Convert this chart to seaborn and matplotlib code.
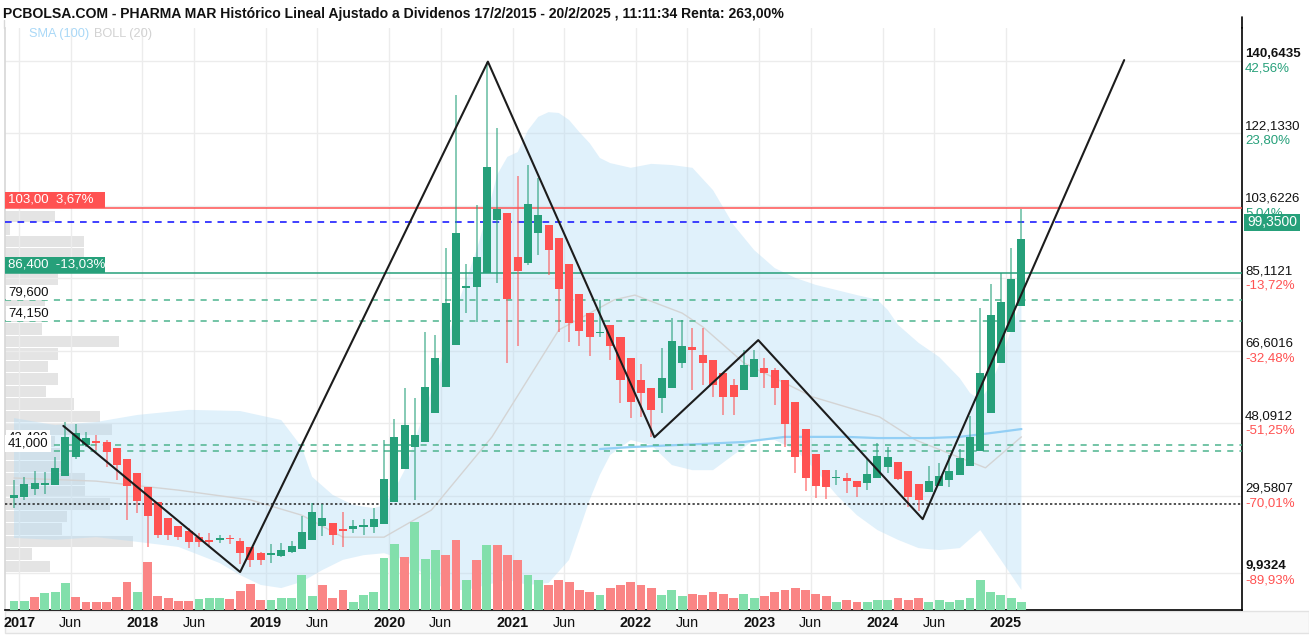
import numpy as np
import matplotlib
matplotlib.use("Agg")
import matplotlib.pyplot as plt
from matplotlib import font_manager
from matplotlib.lines import Line2D
from matplotlib.patches import Rectangle
import seaborn as sns

# ---------------- data (monthly candles, Dec 2016 .. Feb 2025) ----------------
open_ = [29.0, 29.3, 31.3, 32.3, 32.3, 34.6, 39.5, 42.4, 43.3, 43.3, 41.8, 38.9, 35.4, 31.8, 28.0, 23.9, 21.8, 20.5, 19.0, 18.3,
         18.3, 18.6, 18.0, 16.6, 14.9, 14.5, 14.2, 15.1, 16.0, 18.3, 21.9, 22.7, 20.8, 21.0, 21.6, 21.5, 22.4, 28.0, 36.3, 42.1,
         43.4, 50.6, 57.4, 68.1, 82.5, 82.8, 86.4, 99.9, 101.7, 90.4, 88.9, 96.6, 98.7, 95.5, 88.7, 81.1, 76.3, 71.0, 73.2, 70.2,
         64.7, 59.1, 57.0, 54.4, 57.0, 63.5, 67.5, 65.5, 64.2, 61.0, 57.9, 56.6, 59.8, 62.1, 61.7, 59.1, 53.6, 46.5, 40.2, 36.1,
         34.0, 34.0, 33.4, 32.7, 34.0, 37.0, 38.3, 36.0, 32.6, 30.6, 32.1, 33.6, 34.9, 37.2, 41.1, 50.8, 63.4, 71.3, 78.0]
high = [33.6, 34.4, 35.9, 35.6, 39.5, 48.4, 48.0, 45.9, 45.1, 43.8, 41.8, 38.9, 35.4, 31.8, 28.0, 23.9, 21.8, 21.3, 20.0, 20.0,
        19.6, 19.6, 18.8, 16.6, 15.2, 17.3, 17.5, 18.0, 24.4, 27.7, 27.5, 22.7, 25.3, 23.4, 23.6, 26.4, 43.8, 49.1, 57.1, 54.5,
        71.5, 70.6, 92.8, 131.9, 88.7, 103.8, 140.4, 123.4, 101.7, 111.2, 114.0, 110.6, 98.7, 95.5, 88.7, 81.1, 76.3, 79.6, 73.2, 70.2,
        64.7, 63.1, 57.0, 67.2, 74.9, 74.4, 72.4, 72.3, 64.2, 61.0, 59.3, 66.8, 66.8, 64.7, 62.3, 59.1, 53.6, 46.5, 40.2, 36.1,
        36.1, 35.3, 33.4, 39.1, 43.0, 42.1, 38.3, 36.0, 32.6, 37.2, 38.0, 40.0, 41.4, 49.9, 77.4, 83.6, 86.5, 92.7, 102.7]
low = [26.4, 28.5, 29.8, 30.0, 32.3, 34.6, 38.9, 42.0, 41.3, 36.9, 33.6, 23.4, 25.2, 16.5, 18.8, 18.3, 18.3, 16.2, 16.5, 16.5,
       17.5, 17.3, 12.1, 11.5, 11.9, 12.4, 13.9, 14.9, 16.0, 18.3, 19.3, 17.0, 16.6, 20.0, 19.6, 20.0, 22.4, 28.0, 36.3, 28.5,
       43.4, 50.6, 57.4, 68.1, 76.2, 74.0, 86.4, 83.8, 63.4, 67.8, 88.5, 91.0, 85.9, 71.5, 68.9, 67.8, 65.3, 70.0, 64.2, 53.2,
       49.3, 49.8, 44.6, 50.6, 57.0, 62.2, 56.6, 57.9, 54.9, 50.2, 50.2, 56.6, 59.8, 57.2, 52.7, 42.1, 35.3, 30.9, 28.9, 28.7,
       32.3, 30.3, 29.3, 31.0, 34.0, 35.3, 33.6, 26.8, 25.7, 30.6, 32.1, 31.9, 34.9, 37.2, 41.1, 50.8, 63.4, 71.3, 78.0]
close = [29.8, 32.6, 32.8, 32.6, 36.7, 44.6, 45.6, 44.3, 43.0, 40.8, 37.4, 32.0, 28.2, 24.4, 19.6, 19.6, 19.0, 17.8, 17.8, 17.8,
         18.5, 18.4, 14.9, 13.2, 13.2, 14.8, 15.6, 16.8, 20.4, 25.3, 24.0, 19.6, 20.6, 21.9, 21.8, 23.6, 33.8, 44.6, 47.6, 45.1,
         57.4, 64.7, 78.7, 96.6, 83.1, 90.5, 113.6, 102.9, 79.7, 87.0, 104.1, 101.2, 92.3, 82.3, 73.6, 71.7, 70.0, 71.5, 67.8, 59.1,
         53.6, 55.7, 51.5, 59.6, 69.1, 67.8, 66.8, 63.4, 57.8, 54.7, 54.9, 63.0, 64.4, 61.0, 57.0, 47.9, 39.4, 34.0, 32.1, 31.9,
         34.4, 33.4, 31.7, 35.1, 39.8, 39.5, 33.8, 29.2, 28.5, 33.4, 34.7, 36.0, 39.1, 44.6, 61.0, 75.7, 79.1, 84.9, 95.1]
volume = [9, 9, 13, 17, 18, 27, 13, 8, 8, 8, 13, 28, 18, 48, 14, 12, 9, 9, 11, 12,
          12, 11, 19, 26, 10, 10, 12, 12, 35, 14, 25, 12, 20, 8, 15, 18, 52, 66, 53, 88,
          51, 60, 55, 70, 30, 50, 65, 65, 55, 50, 35, 30, 25, 30, 28, 20, 18, 15, 22, 25,
          28, 25, 22, 15, 20, 14, 16, 15, 18, 16, 12, 16, 12, 14, 18, 20, 22, 20, 16, 14,
          8, 10, 8, 8, 10, 10, 12, 10, 12, 8, 10, 8, 10, 12, 30, 18, 15, 12, 8]
volume_up = [1, 1, 0, 1, 1, 1, 0, 0, 0, 0, 0, 0, 1, 0, 0, 0, 0, 0, 1, 1,
             1, 0, 0, 0, 0, 1, 1, 1, 1, 1, 0, 0, 0, 1, 1, 1, 1, 1, 0, 1,
             1, 1, 0, 0, 1, 0, 1, 0, 0, 0, 1, 1, 0, 0, 0, 0, 0, 1, 0, 0,
             0, 0, 0, 1, 1, 1, 0, 0, 0, 0, 0, 1, 1, 0, 0, 0, 0, 0, 0, 0,
             1, 0, 0, 1, 1, 1, 0, 0, 0, 1, 1, 1, 1, 1, 1, 1, 1, 1, 1]

# Bollinger (20) band edges / middle and SMA(100), read at candle indices
boll_up_k = [0, 4, 8, 12, 17, 22, 26, 28, 29, 31, 33, 35, 36, 37, 38, 39, 40, 41, 42, 43, 44, 45, 46, 47, 48, 49, 50, 51, 52,
             53, 54, 55, 56, 57, 58, 60, 62, 64, 66, 68, 70, 72, 74, 76, 78, 80, 82, 84, 85, 86, 88, 90, 92, 93, 94, 95, 96, 97, 98]
boll_up = [49.4, 47.6, 48.4, 50.2, 51.5, 51.2, 48.9, 42.0, 34.4, 29.8, 27.2, 26.4, 27.2, 31.0, 36.1, 43.8, 51.5, 59.6, 68.1,
           77.0, 84.7, 92.3, 101.2, 111.5, 116.1, 117.3, 122.9, 126.3, 127.5, 127.3, 125.5, 122.4, 119.6, 115.8, 114.5, 113.3,
           114.3, 114.0, 113.3, 107.6, 98.7, 92.3, 87.7, 85.2, 83.4, 82.1, 80.8, 79.6, 77.0, 73.2, 68.6, 65.0, 59.6, 55.8, 54.0,
           57.8, 64.2, 71.9, 79.6]
boll_lo_k = [0, 4, 8, 12, 16, 20, 22, 24, 26, 28, 30, 32, 34, 36, 38, 40, 42, 44, 46, 48, 50, 52, 54, 55, 56, 57, 58, 60, 62,
             64, 66, 68, 70, 72, 74, 76, 78, 80, 82, 84, 86, 88, 90, 92, 94, 96, 98]
boll_lo = [18.8, 18.3, 19.0, 17.8, 16.5, 12.4, 9.3, 6.8, 6.0, 7.6, 10.6, 13.2, 14.4, 14.9, 13.2, 9.3, 5.5, 5.5, 6.8, 8.1,
           6.8, 7.3, 13.2, 20.8, 28.5, 34.9, 40.0, 43.8, 42.5, 37.4, 36.1, 36.1, 40.0, 43.8, 43.8, 41.3, 36.1, 29.8, 24.6, 20.8,
           18.3, 16.2, 15.7, 16.2, 20.8, 13.2, 5.5]
boll_mid_k = [0, 8, 16, 23, 28, 32, 36, 40.6, 46.5, 53, 58.4, 60.4, 65, 67, 71, 77.7, 84.2, 87.7, 94.5, 98]
boll_mid = [34.1, 33.3, 31.0, 28.5, 24.6, 19.0, 19.0, 25.9, 44.6, 71.9, 79.6, 80.8, 76.2, 72.7, 63.5, 54.8, 49.7, 43.8, 36.7, 44.6]
sma_k = [57, 60, 67, 71, 75, 81, 84, 89, 92, 96, 98]
sma100 = [41.5, 42.0, 42.8, 43.3, 44.6, 44.6, 44.3, 44.3, 44.6, 45.9, 46.6]

# zig-zag trend line
zigzag_k = [4.8, 22, 46.1, 62.3, 72.4, 88.4, 108]
zigzag_v = [47.4, 10.1, 140.4, 44.5, 69.3, 23.6, 140.8]

# volume profile (price bins from bottom to top)
profile_lo, profile_hi = 9.85, 102.4
profile = [45, 27, 128, 57, 62, 105, 80, 80, 60, 55, 50, 107, 95, 69, 41, 53, 43, 53, 114, 37, 40, 40, 43, 53, 100, 79,
           79, 5, 50]

# levels
lvl_red = 103.00
lvl_last = 99.35
lvl_green = 86.40
lvl_dash = [79.60, 74.15, 42.40, 41.00]
lvl_start = 27.37

# axes ticks
ytick_vals = [140.6435, 122.1330, 103.6226, 85.1121, 66.6016, 48.0912, 29.5807, 9.9324]
ytick_pct = ["42,56%", "23,80%", "5,04%", "-13,72%", "-32,48%", "-51,25%", "-70,01%", "-89,93%"]
ytick_bold = [True, False, False, False, False, False, False, True]
years = [2017, 2018, 2019, 2020, 2021, 2022, 2023, 2024, 2025]

title = ("PCBOLSA.COM - PHARMA MAR Histórico Lineal Ajustado a Dividenos 17/2/2015 - 20/2/2025 , "
         "11:11:34 Renta: 263,00%")

# ---------------- style ----------------
sns.set_theme(style="white")


def has_font(name):
    try:
        font_manager.findfont(font_manager.FontProperties(family=name), fallback_to_default=False)
        return True
    except Exception:
        return False


BASE = ['Liberation Sans', 'DejaVu Sans']
NARROW = ['Liberation Sans Narrow', 'Liberation Sans', 'DejaVu Sans'] if has_font('Liberation Sans Narrow') else BASE
plt.rcParams['font.family'] = BASE

GREEN = '#26a07a'
RED = '#ff5252'
VGREEN = '#82dfab'
VRED = '#fa8585'

W, H = 1309, 638
fig = plt.figure(figsize=(W / 100, H / 100), dpi=100)
fig.patch.set_facecolor('white')


def fx(px):
    return px / W


def fy(py):
    return 1 - py / H


L_PX, R_PX, T_PX, B_PX = 5, 1242, 28, 610
rect = [fx(L_PX), fy(B_PX), fx(R_PX) - fx(L_PX), fy(T_PX) - fy(B_PX)]
YLIM = (0.40, 148.99)
XLIM = (-0.875, 119.46)
PPU = (B_PX - T_PX) / (YLIM[1] - YLIM[0])  # pixels per price unit
AXW = R_PX - L_PX

# bottom date strip
fig.patches.append(Rectangle((fx(L_PX), fy(633)), 1 - fx(L_PX), (633 - 611) / H, transform=fig.transFigure,
                             fc='#f8f8f8', ec='#e2e2e2', lw=1, zorder=-5))

axp = fig.add_axes(rect, zorder=0)
ax = fig.add_axes(rect, zorder=1)
ax2 = fig.add_axes(rect, zorder=2)
for a in (axp, ax, ax2):
    a.set_xlim(*XLIM)
axp.set_ylim(*YLIM)
ax.set_ylim(*YLIM)
axp.axis('off')
ax2.axis('off')
ax.patch.set_alpha(0)
ax2.patch.set_alpha(0)

# volume profile
nb = len(profile)
bw = (profile_hi - profile_lo) / nb
centers = profile_lo + bw * (np.arange(nb) + 0.5)
axp.set_xlim(0, AXW)
axp.barh(centers, profile, height=bw * 0.92, left=0, color='#e4e4e4', edgecolor='none')

# grid
xt, xl, xb = [], [], []
for y in years:
    base = 0.5 + 12 * (y - 2017)
    xt.append(base); xl.append(str(y)); xb.append(True)
    if y < 2025:
        xt.append(base + 5); xl.append('Jun'); xb.append(False)
ax.set_xticks(xt)
ax.set_xticklabels(xl)
ax.set_yticks(ytick_vals)
ax.set_yticklabels([])
ax.tick_params(length=0, labelleft=False, pad=4.5)
ax.grid(True, color='#ececec', lw=1)
ax.set_axisbelow(True)
for lab, b in zip(ax.get_xticklabels(), xb):
    lab.set_family(NARROW)
    lab.set_fontsize(12.5)
    lab.set_fontweight('bold' if b else 'normal')
    lab.set_color('#111111')
for s in ('top',):
    ax.spines[s].set_visible(False)
ax.spines['left'].set_color('#d8d8d8')
ax.spines['right'].set_color('black')
ax.spines['bottom'].set_color('black')
ax.spines['right'].set_linewidth(1.2)
ax.spines['bottom'].set_linewidth(1.2)
fig.add_artist(Line2D([fx(R_PX), fx(R_PX)], [fy(17), fy(T_PX)], color='black', lw=1.2, transform=fig.transFigure))
fig.add_artist(Line2D([fx(4), fx(4)], [fy(20), fy(T_PX)], color='#d8d8d8', lw=1, transform=fig.transFigure))

# Bollinger band
poly_x = np.r_[boll_up_k, boll_lo_k[::-1]]
poly_y = np.r_[boll_up, boll_lo[::-1]]
ax.fill(poly_x, poly_y, color='#b3dcf5', alpha=0.4, lw=0, zorder=1)
sns.lineplot(x=boll_mid_k, y=boll_mid, ax=ax, color='#d4d4d4', lw=1, estimator=None, sort=False, zorder=2)
sns.lineplot(x=sma_k, y=sma100, ax=ax, color='#93cff5', lw=1.6, estimator=None, sort=False, zorder=2)

# horizontal levels
ax.axhline(lvl_red, color=RED, lw=1.1, zorder=3)
ax.axhline(lvl_last, color='#1f1fff', lw=1.2, ls=(0, (4, 3.5)), zorder=3)
ax.axhline(lvl_green, color=GREEN, lw=1.1, zorder=3)
for v in lvl_dash:
    ax.axhline(v, color='#4db48e', lw=1.1, ls=(0, (4, 4)), zorder=3)
ax.axhline(lvl_start, color='#222222', lw=1.1, ls=(0, (1.5, 1.5)), zorder=3)

# candles
k = np.arange(len(close))
o = np.array(open_); c = np.array(close); h = np.array(high); lo = np.array(low)
up = c >= o
cols = np.where(up, GREEN, RED)
ax.vlines(k, lo, h, colors=cols, lw=1.2, alpha=0.65, zorder=4)
ax.bar(k, np.maximum(np.abs(c - o), 0.45), bottom=np.minimum(o, c), width=0.78, color=cols, edgecolor='none', zorder=5)

# zigzag
sns.lineplot(x=zigzag_k, y=zigzag_v, ax=ax, color='#1c1c1c', lw=1.5, estimator=None, sort=False, zorder=6)
ax.set_xlabel(''); ax.set_ylabel('')
ax.set_xlim(*XLIM); ax.set_ylim(*YLIM)

# volume bars
ax2.set_ylim(0, B_PX - T_PX)
ax2.bar(k, volume, width=0.86, color=np.where(np.array(volume_up) == 1, VGREEN, VRED), edgecolor='none')

# left labels
yt = ax.get_yaxis_transform()
def box_label(val, text, fc, tc, width_px, fs=9.5):
    hh = 16.5 / PPU
    ax.add_patch(Rectangle((0, val), width_px / AXW, hh, transform=yt, fc=fc, ec='none', zorder=8, clip_on=False))
    ax.text(3 / AXW, val + hh / 2, text, transform=yt, color=tc, fontsize=fs, va='center', ha='left', zorder=9)

box_label(lvl_red, "103,00  3,67%", RED, 'white', 100)
box_label(lvl_green, "86,400  -13,03%", GREEN, 'white', 100)
for v in lvl_dash[:2]:
    ax.text(3 / AXW, v + 1.5 / PPU, f"{v:.3f}".replace('.', ','), transform=yt, fontsize=9.5, color='#111111',
            va='bottom', ha='left', zorder=9, bbox=dict(fc='white', ec='none', pad=1.2))
ax.text(3 / AXW, lvl_dash[2] + 1.5 / PPU, "42,400", transform=yt, fontsize=9.5, color='#111111',
        va='bottom', ha='left', zorder=8, bbox=dict(fc='white', ec='none', pad=1.2))
ax.text(3 / AXW, lvl_dash[3] + 1.5 / PPU, "41,000", transform=yt, fontsize=9.5, color='#111111',
        va='bottom', ha='left', zorder=9, bbox=dict(fc='white', ec='none', pad=2.0))

# right axis labels
xr = 1 + 3 / AXW
for v, p, b in zip(ytick_vals, ytick_pct, ytick_bold):
    ax.text(xr, v + 1 / PPU, f"{v:.4f}".replace('.', ','), transform=yt, fontsize=9.5, color='#111111',
            va='bottom', ha='left', fontweight='bold' if b else 'normal', zorder=8)
    ax.text(xr, v - 1.5 / PPU, p, transform=yt, fontsize=9.5, color=GREEN if not p.startswith('-') else RED,
            va='top', ha='left', zorder=8)
hh = 17 / PPU
ax.add_patch(Rectangle((1 + 2 / AXW, lvl_last - hh / 2), 56 / AXW, hh, transform=yt, fc=GREEN, ec='none',
                       zorder=10, clip_on=False))
ax.text(1 + 5 / AXW, lvl_last, "99,3500", transform=yt, fontsize=10, color='white', va='center', ha='left', zorder=11)

# title and legend
t = fig.text(fx(3), fy(14), title, fontsize=11, fontweight='bold', family=NARROW, va='center', ha='left',
             color='#111111')
l1 = fig.text(fx(29), fy(34), "SMA (100)", fontsize=10.5, family=NARROW, color='#a9d8f7', va='center', ha='left')
l2 = fig.text(fx(94), fy(34), "BOLL (20)", fontsize=10.5, family=NARROW, color='#d2d2d2', va='center', ha='left')

fig.canvas.draw()
r = fig.canvas.get_renderer()
wt = t.get_window_extent(r).width
t.set_fontsize(11 * 785 / wt)
w1 = l1.get_window_extent(r).width
l1.set_fontsize(10.5 * 61 / w1)
l2.set_fontsize(10.5 * 61 / w1)
lab2018 = [lb for lb in ax.get_xticklabels() if lb.get_text() == '2018'][0]
wy = lab2018.get_window_extent(r).width
for lb in ax.get_xticklabels():
    lb.set_fontsize(12.5 * 32 / wy)

fig.savefig("out.png", dpi=100, facecolor='white')
